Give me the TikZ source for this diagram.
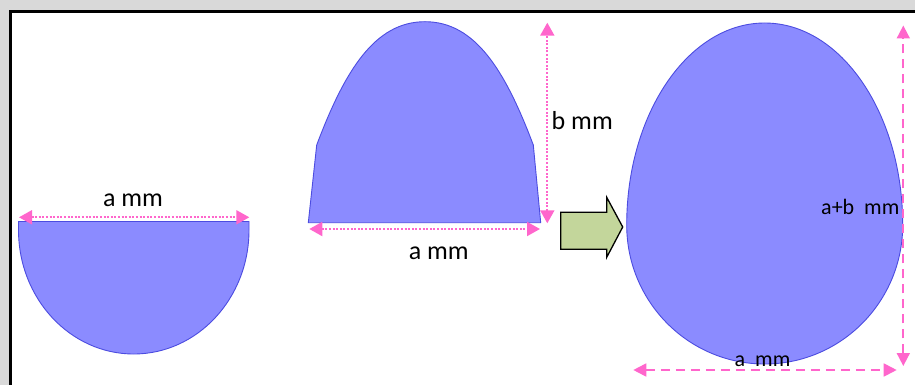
\documentclass[tikz,border=0pt]{standalone}
\usepackage{fontspec}
\setmainfont{Carlito}
\usetikzlibrary{arrows.meta}
\definecolor{bggrey}{HTML}{D9D9D9}
\definecolor{eggfill}{HTML}{8B8BFF}
\definecolor{eggline}{HTML}{4C4CE0}
\definecolor{dimpink}{HTML}{FF66CC}
\definecolor{arrowgreen}{HTML}{C3D69B}
\tikzset{
  eggshape/.style={fill=eggfill, draw=eggline, line width=0.9pt},
  dimdot/.style={draw=dimpink, line width=2pt, dash pattern=on 2pt off 1.6pt,
    {Triangle[length=13pt,width=14pt]}-{Triangle[length=13pt,width=14pt]}},
  dimdash/.style={draw=dimpink, line width=1.8pt, dash pattern=on 9pt off 6pt,
    {Triangle[length=13pt,width=13pt]}-{Triangle[length=13pt,width=13pt]}},
  biglabel/.style={inner sep=0pt, font=\fontsize{26}{28}\selectfont, anchor=base},
  smalllabel/.style={inner sep=0pt, font=\fontsize{22}{24}\selectfont, anchor=base},
  bigarrow/.style={fill=arrowgreen, draw=black, line width=1.3pt, line join=miter}
}
\begin{document}
\begin{tikzpicture}[x=1pt,y=-1pt]
\useasboundingbox (0,0) rectangle (915,385);
% background and frame
\fill[bggrey] (0,0) rectangle (915,385);
\fill[white] (11.5,13) rectangle (915,385);
\draw[black, line width=3pt] (10,385) -- (10,12) -- (915,12);

% left half disk
\path[eggshape] (18.5,221.5) -- (249,221.5) -- (249,230)
  .. controls (249,298.5) and (197.4,354) .. (133.75,354)
  .. controls (70.1,354) and (18.5,298.5) .. (18.5,230) -- cycle;
\coordinate (l1) at (19,217.3);
\coordinate (l2) at (249.3,217.3);
\draw[dimdot] (l1) -- (l2);
\node[biglabel] (la) at (133,206) {a mm};

% middle cap
\path[eggshape] (308.3,222.7) -- (316.7,145)
  .. controls (345,70) and (375,21.7) .. (425,21.7)
  .. controls (475,21.7) and (505,70) .. (533.3,145)
  -- (540.7,222.7) -- cycle;
\coordinate (m1) at (309.3,229);
\coordinate (m2) at (540,229);
\draw[dimdot] (m1) -- (m2);
\node[biglabel] (ma) at (438.7,259.3) {a mm};
\coordinate (mv1) at (547.3,223.3);
\coordinate (mv2) at (547.3,22.7);
\draw[dimdot] (mv1) -- (mv2);
\node[biglabel, anchor=base west] (mb) at (551.5,130) {b mm};

% green arrow
\path[bigarrow] (560.7,212.3) -- (606.7,212.3) -- (606.7,197.3) -- (622.7,227)
  -- (606.7,257.3) -- (606.7,249.3) -- (560.7,249.3) -- cycle;

% right egg
\path[eggshape] (626.7,225)
  .. controls (626.7,113.4) and (688.5,23) .. (764.7,23)
  .. controls (840.9,23) and (902.7,113.4) .. (902.7,225)
  .. controls (902.7,301.8) and (840.9,364) .. (764.7,364)
  .. controls (688.5,364) and (626.7,301.8) .. (626.7,225) -- cycle;
\coordinate (r1) at (903.3,366);
\coordinate (r2) at (903.3,25.5);
\draw[dimdash] (r1) -- (r2);
\coordinate (b1) at (633.3,370);
\coordinate (b2) at (896.7,370);
\draw[dimdash] (b1) -- (b2);
\node[smalllabel, anchor=base west] (rab) at (821,214.3) {a+b\ \ mm};
\node[smalllabel] (ra) at (762.5,366.5) {a\ \ mm};
\end{tikzpicture}
\end{document}
